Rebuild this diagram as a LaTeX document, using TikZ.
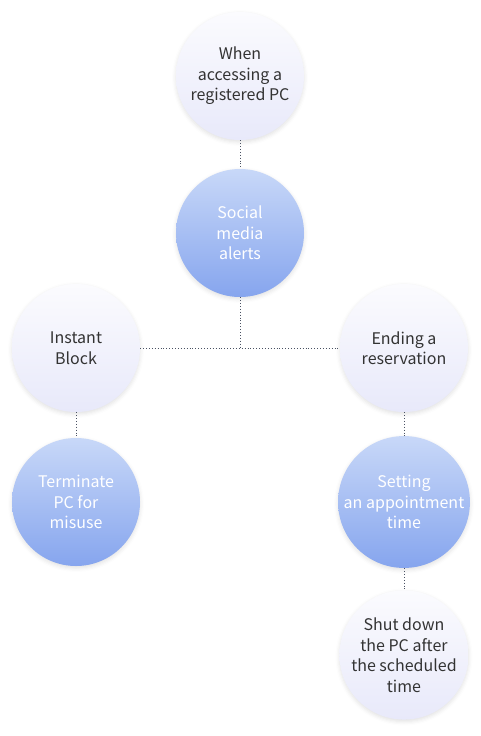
\documentclass[tikz,border=0pt]{standalone}
\usepackage{fontspec}
\setmainfont{Noto Sans CJK KR}
\usetikzlibrary{shadows.blur}
\definecolor{lighttop}{HTML}{FBFBFE}
\definecolor{lightbot}{HTML}{E8E9FA}
\definecolor{bluetop}{HTML}{C8D8F8}
\definecolor{bluebot}{HTML}{86A5EE}
\definecolor{txtdark}{HTML}{333333}
\definecolor{linecol}{HTML}{4A5263}
\tikzset{
  bub/.style={circle, minimum size=128pt, inner sep=0pt, align=center,
    font=\fontsize{16pt}{20.5pt}\selectfont,
    blur shadow={shadow xshift=0pt, shadow yshift=-2pt, shadow blur radius=4pt, shadow opacity=12}},
  lightbub/.style={bub, top color=lighttop, bottom color=lightbot, text=txtdark},
  bluebub/.style={bub, top color=bluetop, bottom color=bluebot, text=white},
  conn/.style={draw=linecol, line width=0.8pt, dash pattern=on 0.9pt off 2pt}
}
\begin{document}
\begin{tikzpicture}[x=1pt,y=1pt]
\useasboundingbox (0,0) rectangle (480,-736);
\node[lightbub] (acc) at (240,-76) {When\\accessing a\\registered PC};
\node[bluebub] (soc) at (240,-233) {Social\\media\\alerts};
\node[lightbub] (ib) at (76,-348) {Instant\\Block};
\node[lightbub] (er) at (404,-348) {Ending a\\reservation};
\node[bluebub] (tp) at (76,-502) {Terminate\\PC for\\misuse};
\node[bluebub] (sa) at (404,-502) {Setting\\an appointment\\time};
\node[lightbub] (sd) at (404,-655) {Shut down\\the PC after\\the scheduled\\time};
\coordinate (j) at (soc.south |- ib.east);
\draw[conn] (acc.south) -- (soc.north);
\draw[conn] (soc.south) -- (j);
\draw[conn] (ib.east) -- (er.west);
\draw[conn] (ib.south) -- (tp.north);
\draw[conn] (er.south) -- (sa.north);
\draw[conn] (sa.south) -- (sd.north);
\end{tikzpicture}
\end{document}
